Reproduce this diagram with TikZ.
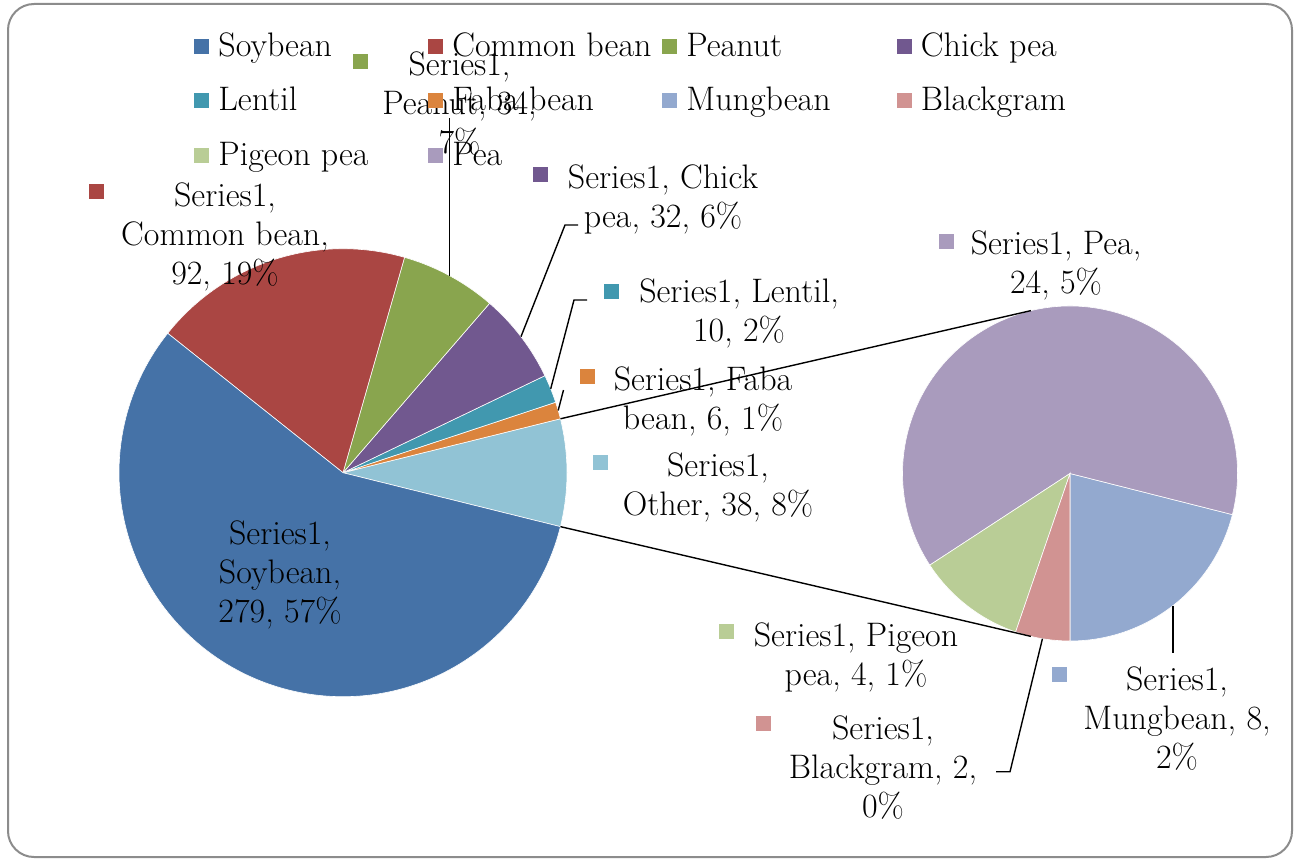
\documentclass[tikz,border=0pt]{standalone}
\usepackage{fontspec}
\usetikzlibrary{calc}
\definecolor{cSoy}{HTML}{4572A7}
\definecolor{cCom}{HTML}{AA4643}
\definecolor{cPnt}{HTML}{89A54E}
\definecolor{cChk}{HTML}{71588F}
\definecolor{cLen}{HTML}{4198AF}
\definecolor{cFab}{HTML}{DB843D}
\definecolor{cMun}{HTML}{93A9CF}
\definecolor{cBlk}{HTML}{D19392}
\definecolor{cPig}{HTML}{B9CD96}
\definecolor{cPe}{HTML}{A99BBD}
\definecolor{cOth}{HTML}{91C3D5}
\definecolor{frameg}{HTML}{8C8C8C}
\begin{document}
\begin{tikzpicture}[x=0.5pt,y=-0.5pt,
  lbl/.style={font=\rmfamily\fontsize{17}{19.5}\selectfont, align=center, inner sep=0pt, text=black},
  leg/.style={font=\rmfamily\fontsize{17}{19.5}\selectfont, anchor=base west, inner sep=0pt, text=black},
  key/.style={minimum size=7.5pt, inner sep=0pt, draw=none},
  leader/.style={draw=black, line width=0.7pt},
  slice/.style={draw=white, line width=0.3pt}]
\useasboundingbox (0,0) rectangle (1299,861);
\fill[white] (0,0) rectangle (1299,861);
\draw[frameg, line width=1pt, rounded corners=13pt] (8,4) rectangle (1292,857);

% main pie
\begin{scope}[shift={(343,472.7)}, x=0.5pt, y=0.5pt]
  \path[fill=cOth, slice] (0,0) -- (-13.93:224) arc[start angle=-13.93, end angle=13.93, radius=224] -- cycle;
  \path[fill=cFab, slice] (0,0) -- (13.93:224) arc[start angle=13.93, end angle=18.33, radius=224] -- cycle;
  \path[fill=cLen, slice] (0,0) -- (18.33:224) arc[start angle=18.33, end angle=25.662, radius=224] -- cycle;
  \path[fill=cChk, slice] (0,0) -- (25.662:224) arc[start angle=25.662, end angle=49.124, radius=224] -- cycle;
  \path[fill=cPnt, slice] (0,0) -- (49.124:224) arc[start angle=49.124, end angle=74.053, radius=224] -- cycle;
  \path[fill=cCom, slice] (0,0) -- (74.053:224) arc[start angle=74.053, end angle=141.507, radius=224] -- cycle;
  \path[fill=cSoy, slice] (0,0) -- (141.507:224) arc[start angle=141.507, end angle=346.07, radius=224] -- cycle;
  \coordinate (mPnt) at (61.589:224);
  \coordinate (mChk) at (37.393:224);
  \coordinate (mLen) at (21.996:224);
  \coordinate (mFab) at (16.13:224);
  \coordinate (mOthT) at (13.93:224);
  \coordinate (mOthB) at (-13.93:224);
\end{scope}

% secondary pie
\begin{scope}[shift={(1070,473.5)}, x=0.5pt, y=0.5pt]
  \path[fill=cMun, slice] (0,0) -- (-90:167.5) arc[start angle=-90, end angle=-14.21, radius=167.5] -- cycle;
  \path[fill=cPe, slice] (0,0) -- (-14.21:167.5) arc[start angle=-14.21, end angle=213.158, radius=167.5] -- cycle;
  \path[fill=cPig, slice] (0,0) -- (213.158:167.5) arc[start angle=213.158, end angle=251.053, radius=167.5] -- cycle;
  \path[fill=cBlk, slice] (0,0) -- (251.053:167.5) arc[start angle=251.053, end angle=270, radius=167.5] -- cycle;
  \coordinate (sTop) at (103.5:167.5);
  \coordinate (sBot) at (256.5:167.5);
  \coordinate (sMun) at (-52.105:167.5);
  \coordinate (sBlk) at (260.526:167.5);
\end{scope}

% data labels
\node[lbl] (lSoy) at (280,575) {Series1,\\Soybean,\\279, 57\%};
\node[lbl] (lCom) at (225,237) {Series1,\\Common bean,\\92, 19\%};
\node[key, fill=cCom] (kCom) at (96.5,191.5) {};
\node[lbl] (lPnt) at (459.5,104) {Series1,\\Peanut, 34,\\7\%};
\node[key, fill=cPnt] (kPnt) at (360,62) {};
\node[lbl] (lChk) at (663,199.5) {Series1, Chick\\pea, 32, 6\%};
\node[key, fill=cChk] (kChk) at (540.5,175) {};
\node[lbl] (lLen) at (739,313) {Series1, Lentil,\\10, 2\%};
\node[key, fill=cLen] (kLen) at (611,291) {};
\node[lbl] (lFab) at (703,401) {Series1, Faba\\bean, 6, 1\%};
\node[key, fill=cFab] (kFab) at (587.3,376.7) {};
\node[lbl] (lOth) at (718,487) {Series1,\\Other, 38, 8\%};
\node[key, fill=cOth] (kOth) at (600.5,462.5) {};
\node[lbl] (lPe) at (1056,265) {Series1, Pea,\\24, 5\%};
\node[key, fill=cPe] (kPe) at (946,241) {};
\node[lbl] (lMun) at (1177,718.5) {Series1,\\Mungbean, 8,\\2\%};
\node[key, fill=cMun] (kMun) at (1059,674) {};
\node[lbl] (lPig) at (856,657) {Series1, Pigeon\\pea, 4, 1\%};
\node[key, fill=cPig] (kPig) at (726,631) {};
\node[lbl] (lBlk) at (883,768) {Series1,\\Blackgram, 2,\\0\%};
\node[key, fill=cBlk] (kBlk) at (763,723) {};

% legend
\node[key, fill=cSoy] (gkSoy) at (201,46.7) {};
\node[leg] (gtSoy) at (218,56.7) {Soybean};
\node[key, fill=cCom] (gkCom) at (435.5,46.7) {};
\node[leg] (gtCom) at (452,56.7) {Common bean};
\node[key, fill=cPnt] (gkPnt) at (669.5,46.7) {};
\node[leg] (gtPnt) at (686,56.7) {Peanut};
\node[key, fill=cChk] (gkChk) at (904,46.7) {};
\node[leg] (gtChk) at (920.5,56.7) {Chick pea};
\node[key, fill=cLen] (gkLen) at (201,101) {};
\node[leg] (gtLen) at (218,111) {Lentil};
\node[key, fill=cFab] (gkFab) at (435.5,101) {};
\node[leg] (gtFab) at (452,111) {Faba bean};
\node[key, fill=cMun] (gkMun) at (669.5,101) {};
\node[leg] (gtMun) at (686,111) {Mungbean};
\node[key, fill=cBlk] (gkBlk) at (904,101) {};
\node[leg] (gtBlk) at (920.5,111) {Blackgram};
\node[key, fill=cPig] (gkPig) at (201,156) {};
\node[leg] (gtPig) at (218,166) {Pigeon pea};
\node[key, fill=cPe] (gkPe) at (435.5,156) {};
\node[leg] (gtPe) at (452,166) {Pea};

% leader lines
\coordinate (pnTop) at (449.6,118);
\draw[leader] (mPnt) -- (mPnt |- pnTop);
\coordinate (chB) at (565,225);
\coordinate (chE) at (578,225);
\draw[leader] (mChk) -- (chB) -- (chE);
\coordinate (leB) at (574,300);
\coordinate (leE) at (587,300);
\draw[leader] (mLen) -- (leB) -- (leE);
\coordinate (faB) at (563.5,390);
\draw[leader] (mFab) -- (faB);
\coordinate (muE) at (0,653);
\draw[leader] (sMun) -- (sMun |- muE);
\coordinate (blB) at (1010,771.7);
\coordinate (blE) at (996,771.7);
\draw[leader] (sBlk) -- (blB) -- (blE);

% series lines
\draw[leader] (mOthT) -- (sTop);
\draw[leader] (mOthB) -- (sBot);
\end{tikzpicture}
\end{document}
